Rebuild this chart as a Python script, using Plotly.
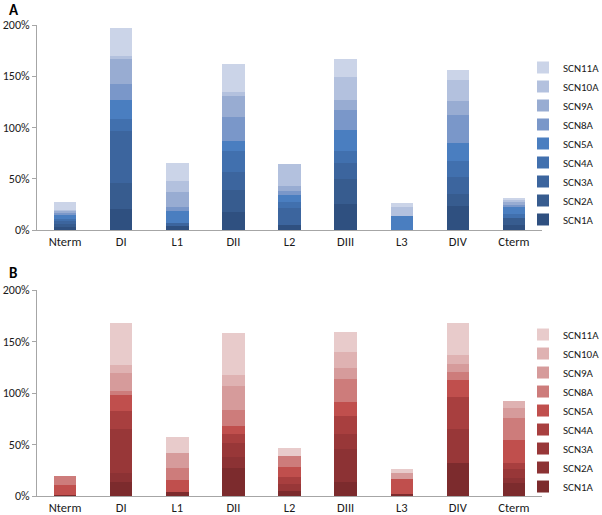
import plotly.graph_objects as go
from plotly.subplots import make_subplots

categories = ["Nterm", "DI", "L1", "DII", "L2", "DIII", "L3", "DIV", "Cterm"]
series = ["SCN1A", "SCN2A", "SCN3A", "SCN4A", "SCN5A", "SCN8A", "SCN9A", "SCN10A", "SCN11A"]
y_tick_vals = [0, 50, 100, 150, 200]
y_tick_text = ["0%", "50%", "100%", "150%", "200%"]

# Panel A values (%), per series, per category
a_scn1a = [3.0, 20.1, 3.9, 17.5, 4.5, 25.0, 0.0, 23.3, 4.9]
a_scn2a = [3.0, 25.9, 0.0, 21.4, 0.0, 24.3, 0.0, 12.3, 6.4]
a_scn3a = [3.0, 50.2, 2.6, 17.5, 17.2, 16.2, 0.0, 16.0, 0.0]
a_scn4a = [2.0, 12.3, 0.0, 20.4, 5.5, 11.3, 0.0, 15.5, 4.0]
a_scn5a = [4.0, 18.5, 12.0, 10.4, 6.5, 21.1, 13.6, 17.8, 8.0]
a_scn8a = [2.0, 15.3, 3.9, 23.0, 4.2, 19.4, 0.0, 26.9, 1.5]
a_scn9a = [2.0, 24.3, 14.5, 20.7, 4.9, 9.7, 0.0, 13.6, 2.4]
a_scn10a = [1.0, 3.2, 10.7, 4.2, 22.0, 22.1, 9.1, 21.1, 2.0]
a_scn11a = [7.6, 26.9, 17.9, 26.9, 0.0, 17.8, 3.2, 9.7, 2.2]

# Panel B values (%)
b_scn1a = [1.0, 13.2, 4.2, 27.0, 4.5, 13.2, 1.9, 32.5, 12.2]
b_scn2a = [0.0, 8.7, 0.0, 10.4, 0.0, 32.8, 0.0, 0.0, 4.9]
b_scn3a = [0.0, 42.8, 0.0, 14.4, 7.0, 13.9, 0.0, 32.2, 9.6]
b_scn4a = [0.0, 17.7, 0.0, 8.0, 7.2, 17.7, 0.0, 31.3, 4.9]
b_scn5a = [9.6, 15.5, 11.6, 8.1, 9.6, 13.8, 14.5, 17.0, 22.5]
b_scn8a = [9.0, 3.9, 11.2, 15.2, 10.7, 22.3, 0.0, 7.4, 21.9]
b_scn9a = [0.0, 17.7, 15.2, 23.5, 0.0, 10.6, 5.5, 8.0, 9.0]
b_scn10a = [0.0, 8.0, 0.0, 11.3, 0.0, 15.4, 0.0, 8.1, 7.7]
b_scn11a = [0.0, 40.3, 15.1, 40.2, 8.0, 20.0, 4.2, 31.3, 0.0]

a_values = [a_scn1a, a_scn2a, a_scn3a, a_scn4a, a_scn5a, a_scn8a, a_scn9a, a_scn10a, a_scn11a]
b_values = [b_scn1a, b_scn2a, b_scn3a, b_scn4a, b_scn5a, b_scn8a, b_scn9a, b_scn10a, b_scn11a]

blue_colors = ["#2f5080", "#375c8f", "#3c659e", "#4170ae", "#4a7ec0",
               "#7a97c9", "#98acd2", "#b3c1de", "#cbd4e8"]
red_colors = ["#7c2b2d", "#8c3234", "#983738", "#a83f3f", "#c04f4d",
              "#cd7c7b", "#d69b9b", "#dfb2b2", "#e8cbcb"]

FONT = "Calibri, Carlito, Lato, sans-serif"

# plot area (pixels): left 37, right 542, top 25, bottom 496
# panel A: 25..230, panel B: 290..496
fig = make_subplots(rows=2, cols=1, vertical_spacing=0.1)

for name, vals, col in zip(series, a_values, blue_colors):
    fig.add_trace(go.Bar(x=categories, y=vals, name=name, marker_color=col,
                         marker_line_width=0, legend="legend"), row=1, col=1)
for name, vals, col in zip(series, b_values, red_colors):
    fig.add_trace(go.Bar(x=categories, y=vals, name=name, marker_color=col,
                         marker_line_width=0, legend="legend2"), row=2, col=1)

axis_common = dict(showline=True, linecolor="#a6a6a6", linewidth=1,
                   showgrid=False, zeroline=False, automargin=False)

fig.update_xaxes(**axis_common, ticks="", tickfont=dict(family=FONT, size=12.5, color="#1a1a1a"))
fig.update_yaxes(**axis_common, range=[0, 200], tickmode="array",
                 tickvals=y_tick_vals, ticktext=y_tick_text,
                 ticks="outside", ticklen=4, tickcolor="#a6a6a6",
                 tickfont=dict(family=FONT, size=12, color="#1a1a1a"))

H_PLOT = 496 - 25
fig.update_layout(
    width=602, height=515,
    margin=dict(l=37, r=60, t=25, b=19, autoexpand=False),
    barmode="stack", bargap=0.6,
    plot_bgcolor="white", paper_bgcolor="white",
    font=dict(family=FONT, size=11, color="#1a1a1a"),
    xaxis=dict(domain=[0, 1]),
    yaxis=dict(domain=[(496 - 230) / H_PLOT, 1]),
    xaxis2=dict(domain=[0, 1]),
    yaxis2=dict(domain=[0, (496 - 290) / H_PLOT]),
    legend=dict(xref="container", yref="container", x=0.8688, y=0.8971,
                xanchor="left", yanchor="top",
                traceorder="reversed", font=dict(family=FONT, size=11),
                bgcolor="rgba(0,0,0,0)"),
    legend2=dict(xref="container", yref="container", x=0.8688, y=0.3786,
                 xanchor="left", yanchor="top",
                 traceorder="reversed", font=dict(family=FONT, size=11),
                 bgcolor="rgba(0,0,0,0)"),
    annotations=[
        dict(text="<b>A</b>", xref="paper", yref="paper", x=-0.058,
             y=(496 - 9.8) / H_PLOT, borderpad=0,
             xanchor="left", yanchor="middle", showarrow=False,
             font=dict(family=FONT, size=15, color="black")),
        dict(text="<b>B</b>", xref="paper", yref="paper", x=-0.058,
             y=(496 - 273) / H_PLOT, borderpad=0,
             xanchor="left", yanchor="middle", showarrow=False,
             font=dict(family=FONT, size=15, color="black")),
    ],
)

fig.write_html(
    "out.html",
    config={"displayModeBar": False},
    post_script="document.body.style.margin='0';document.body.style.padding='0';",
)
